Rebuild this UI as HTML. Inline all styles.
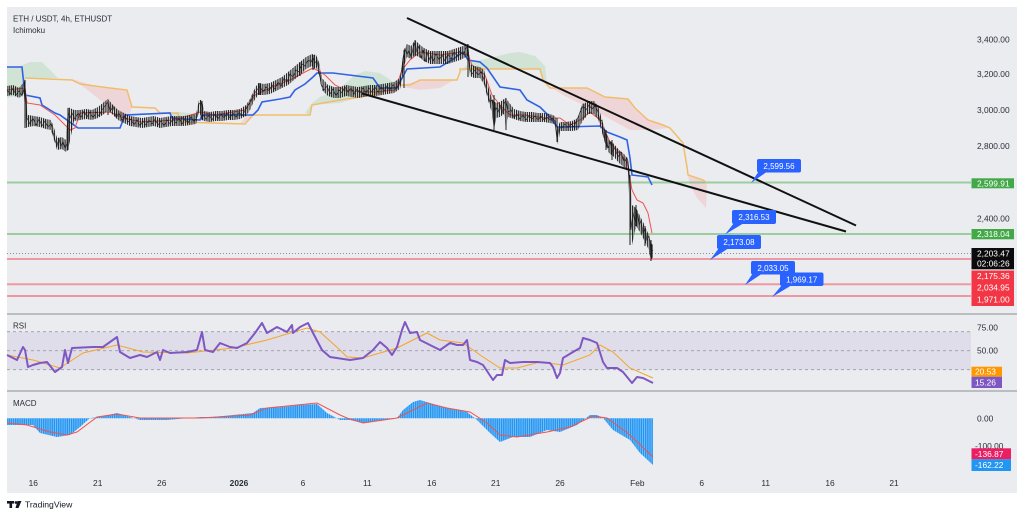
<!DOCTYPE html>
<html><head><meta charset="utf-8"><style>
html,body{margin:0;padding:0;background:#fff;}
svg{display:block;}
text{font-family:"Liberation Sans",Arial,sans-serif;}
.ax{font-size:8.4px;fill:#2a2e39;}
.bx{font-size:8.4px;fill:#fff;}
.cl{font-size:8px;fill:#fff;}
</style></head><body>
<svg width="1024" height="517" viewBox="0 0 1024 517" xmlns="http://www.w3.org/2000/svg">
<defs>
<pattern id="hb" width="2.15" height="20" patternUnits="userSpaceOnUse"><rect width="2.15" height="20" fill="#8cc4f5"/><rect width="1.4" height="20" fill="#2196f3"/></pattern>
<pattern id="cd" width="2.15" height="20" patternUnits="userSpaceOnUse"><rect width="1.15" height="20" fill="#1a1a1a"/></pattern>
</defs>
<rect width="1024" height="517" fill="#fff"/>
<rect x="7" y="7" width="1010" height="486" fill="#ebecef"/>

<!-- Ichimoku clouds -->
<g opacity="0.9">
<polygon fill="#cfe3d3" points="7,67 20,66 30,62 42,62 52,72 58,78 25,78 22,95 7,98"/>
<polygon fill="#efd3d6" points="72,79 95,86 110,88 127,90 132,107 128,123 115,112 100,100 85,88"/>
<polygon fill="#cfe3d3" points="172,113 180,112 190,113 198,117 180,122 172,120"/>
<polygon fill="#efd3d6" points="240,124 247,115 255,113 250,120"/>
<polygon fill="#cfe3d3" points="305,113 312,103 320,97 340,88 355,75 365,71 380,73 395,83 403,86 380,93 360,97 340,103 312,105 310,115"/>
<polygon fill="#efd3d6" points="403,85 420,80 457,80 460,72 458,78 440,88 420,90 403,87"/>
<polygon fill="#cfe3d3" points="460,72 470,62 490,58 510,53 520,52 535,56 545,66 547,85 543,80 540,69 470,69"/>
<polygon fill="#efd3d6" points="547,85 550,88 587,88 605,97 628,99 635,108 648,120 663,125 668,128 650,130 630,130 597,112 563,95"/>
<polygon fill="#efd3d6" points="687,170 688,175 703,180 707,185 706,208 697,198 690,185"/>
</g>

<!-- horizontal levels -->
<line x1="7" y1="182.5" x2="971" y2="182.5" stroke="#4caf50" stroke-opacity="0.5" stroke-width="2"/>
<line x1="7" y1="234" x2="971" y2="234" stroke="#4caf50" stroke-opacity="0.5" stroke-width="2"/>
<line x1="7" y1="253.5" x2="971" y2="253.5" stroke="#6a6d78" stroke-width="0.8" stroke-dasharray="1 2"/>
<line x1="7" y1="259" x2="971" y2="259" stroke="#f23645" stroke-opacity="0.45" stroke-width="2"/>
<line x1="7" y1="284.3" x2="971" y2="284.3" stroke="#f23645" stroke-opacity="0.45" stroke-width="2"/>
<line x1="7" y1="296" x2="971" y2="296" stroke="#f23645" stroke-opacity="0.45" stroke-width="2"/>

<!-- Senkou B (orange) -->
<polyline fill="none" stroke="#f2bd6b" stroke-width="1.5" points="25,78 72,80 80,84 95,86 110,88 127,90 132,107 155,108 160,113 178,113 180,122 245,124 253,115 310,115 312,105 340,100 360,97 380,93 400,85 410,85 420,80 457,80 460,72 460,69 540,69 543,80 550,88 587,88 605,97 628,99 635,108 648,120 663,125 670,128 683,143 687,167 688,175 703,180 706,182"/>

<!-- Kijun (blue) -->
<polyline fill="none" stroke="#2f62e6" stroke-width="1.6" points="7,67 22,67 25,95 40,98 42,105 55,113 60,115 78,128 120,128 125,115 170,113 172,118 200,120 202,115 253,115 258,110 262,102 280,99 290,97 295,90 305,84 313,77 317,73 333,73 373,78 380,88 397,88 401,80 407,69 440,67 452,60 463,52 468,60 480,62 487,68 500,87 520,90 527,100 540,107 550,117 557,127 563,127 600,126 607,132 620,137 627,140 630,158 632,175 648,177 652,185"/>

<!-- Tenkan (red) -->
<polyline fill="none" stroke="#ef5350" stroke-width="1" points="7,90 25,88 27,103 40,105 55,115 70,130 75,128 80,113 110,112 120,117 140,122 175,120 200,112 215,115 245,110 255,95 270,88 290,80 305,72 313,68 325,75 335,85 345,90 360,92 375,92 395,90 402,70 410,60 420,52 440,55 460,52 468,55 472,65 485,75 492,95 500,105 510,115 525,115 545,118 560,118 570,125 580,120 590,112 600,120 610,142 627,162 632,190 637,200 643,203 648,213 652,233"/>

<!-- price candles -->
<polygon fill="url(#cd)" points="7,86 13,85 19,88 24,82 25,79 26,95 28,115 34,116 40,117 46,119 51,120 54,128 57,138 62,137 66,140 68,107 74,110 80,110 86,109 92,110 98,107 104,102 108,99 112,104 118,110 124,113 130,116 136,117 142,118 148,117 154,116 160,118 166,117 172,116 178,116 184,116 190,115 196,114 199,100 202,100 204,111 210,112 216,111 222,111 228,110 234,110 240,109 246,105 250,99 254,90 258,83 264,84 270,83 276,80 282,77 288,72 294,67 300,62 306,57 312,54 316,55 319,62 322,78 328,85 334,87 340,87 346,85 352,86 358,87 364,86 370,85 376,85 382,84 388,83 394,82 400,78 402,64 404,50 407,44 411,46 415,40 419,44 424,48 430,51 436,51 442,51 448,51 454,49 460,47 466,45 468,44 470,64 474,66 480,67 484,70 488,86 492,99 496,103 500,102 504,99 506,98 508,101 514,109 520,111 526,112 532,112 538,113 544,113 550,114 555,116 557,128 560,122 566,122 572,121 578,118 582,104 585,103 588,101 594,101 598,106 601,116 605,130 609,140 614,144 619,150 624,154 628,159 630,176 632,205 636,208 640,216 644,224 648,233 651,243 653,245 653,257 651,260 648,248 644,240 640,232 636,226 632,245 630,215 628,172 624,167 619,163 614,157 609,153 605,143 601,129 598,119 594,114 588,114 582,122 578,130 572,131 566,131 560,131 558,145 555,124 550,123 544,122 538,122 532,122 526,122 520,121 514,119 508,117 506,130 504,114 500,117 496,118 494,130 492,113 488,100 484,84 480,78 474,78 470,76 468,56 466,57 460,60 454,62 448,64 442,64 436,64 430,64 424,61 419,57 415,55 411,59 407,57 404,66 402,80 400,89 394,93 388,94 382,95 376,96 370,96 364,97 358,98 352,97 346,96 340,98 334,98 328,96 322,90 319,75 316,67 313,70 312,66 306,69 300,75 294,80 288,85 282,88 276,91 270,94 264,95 258,95 254,101 250,110 246,116 240,119 234,120 228,120 222,121 216,121 210,122 204,121 202,120 199,111 196,124 190,125 184,126 178,126 172,126 166,127 160,128 154,126 148,127 142,128 136,127 130,126 124,123 118,120 112,114 108,110 104,114 98,118 92,120 86,119 80,120 74,121 68,150 66,152 62,149 57,150 54,140 51,130 46,129 40,127 34,126 28,127 26,128 24,94 19,98 13,95 7,96"/>
<g stroke="#1e1e1e" fill="none">
<polyline stroke-width="0.6" points="7,90 10,94 13,88 16,95 19,91 22,96 24,88 25,84 27,118 30,124 33,118 36,125 39,119 42,126 45,121 48,127 51,124 53,133 55,140 57,146 59,138 61,147 63,141 65,149 67,143 68,112 70,118 72,113 75,119 78,113 81,117 84,111 87,117 90,112 93,118 96,112 99,116 102,110 105,106 108,102 110,112 113,106 116,117 119,113 122,120 125,116 128,122 131,119 134,125 137,120 140,126 143,121 146,125 149,120 152,124 155,119 158,125 161,121 164,126 167,120 170,124 173,119 176,123 179,118 182,124 185,119 188,123 191,117 194,122 197,117 199,104 201,102 203,115 206,119 209,115 212,120 215,114 218,119 221,114 224,118 227,113 230,118 233,113 236,117 239,112 242,116 245,111 248,106 251,100 254,94 257,90 260,86 263,92 266,87 269,91 272,85 275,89 278,82 281,86 284,78 287,82 290,74 293,77 296,70 299,72 302,64 305,66 308,60 311,62 313,57 315,63 317,60 319,70 321,84 324,90 327,86 330,94 333,89 336,96 339,90 342,93 345,87 348,92 351,88 354,94 357,89 360,93 363,88 366,93 369,88 372,92 375,87 378,92 381,87 384,91 387,86 390,90 393,85 396,89 399,84 401,75 403,58 405,48 407,55 409,50 411,58 413,48 415,42 417,52 419,46 421,58 423,50 425,62 427,52 429,60 431,55 433,62 436,54 439,60 442,55 445,61 448,54 451,59 454,52 457,56 460,51 463,55 466,48 468,46 470,70 472,74 475,70 478,75 481,72 484,80 487,92 490,102 492,100 494,115 496,108 498,112 500,105 502,114 504,104 506,100 508,112 511,110 514,118 517,114 520,119 523,115 526,120 529,116 532,119 535,116 538,120 541,116 544,120 547,117 550,120 553,118 555,122 557,140 559,128 562,128 565,124 568,128 571,124 574,127 577,120 580,112 583,106 586,110 589,105 592,109 595,106 598,112 600,122 602,120 604,138 606,132 608,148 610,142 612,152 615,148 618,157 621,152 624,162 627,158 629,170 630,195 631,230 633,212 635,222 637,210 639,226 641,220 643,234 645,228 647,240 649,236 651,252 653,250"/>
<path stroke-width="1" d="M25,80V128 M68,108V150 M108,100V115 M202,101V120 M313,55V70 M404,50V88 M415,40V56 M468,44V77 M494,95V130 M506,98V130 M557,118V142 M585,104V118 M630,175V245 M651,240V261 M645,226V246 M636,205V226 M612,140V160 M606,130V150 M260,83V95 M300,62V76"/>
</g>

<!-- trend lines -->
<line x1="407" y1="18" x2="856" y2="225.5" stroke="#111" stroke-width="2"/>
<line x1="362" y1="93.5" x2="846" y2="231.5" stroke="#111" stroke-width="2"/>

<!-- callouts -->
<g fill="#2962ff">
<rect x="757" y="159" width="44" height="13.5" rx="2"/><polygon points="759,171 768,171 751,183"/>
<rect x="732" y="210" width="44" height="14" rx="2"/><polygon points="734,223 744,223 725,234.5"/>
<rect x="717" y="235" width="44" height="14" rx="2"/><polygon points="719,248 729,248 710,260"/>
<rect x="751" y="261" width="44" height="13.5" rx="2"/><polygon points="753,273 763,273 745,285"/>
<rect x="780" y="272.5" width="43.5" height="13.5" rx="2"/><polygon points="782,285 792,285 772,297"/>
</g>
<g class="cl" text-anchor="middle">
<text x="779" y="168.8">2,599.56</text>
<text x="754" y="220">2,316.53</text>
<text x="739" y="245">2,173.08</text>
<text x="773" y="270.8">2,033.05</text>
<text x="801.7" y="282.3">1,969.17</text>
</g>

<!-- header -->
<text x="13" y="21.5" font-size="8" fill="#2a2e39">ETH / USDT, 4h, ETHUSDT</text>
<text x="13" y="33" font-size="8" fill="#2a2e39">Ichimoku</text>

<!-- price axis -->
<g class="ax">
<text x="977" y="42.3">3,400.00</text>
<text x="977" y="77">3,200.00</text>
<text x="977" y="113">3,000.00</text>
<text x="977" y="149">2,800.00</text>
<text x="977" y="221.3">2,400.00</text>
</g>
<rect x="971.5" y="178.3" width="42.5" height="10" fill="#43a848"/>
<rect x="971.5" y="229" width="42.5" height="10.3" fill="#43a848"/>
<rect x="971.5" y="248" width="42.5" height="21.3" fill="#0b0b0b"/>
<rect x="971.5" y="270.5" width="42.5" height="35.5" fill="#f23645"/>
<g class="bx">
<text x="977" y="186.3">2,599.91</text>
<text x="977" y="237.2">2,318.04</text>
<text x="977" y="256.5">2,203.47</text>
<text x="977" y="266.5">02:06:26</text>
<text x="977" y="279">2,175.36</text>
<text x="977" y="290.3">2,034.95</text>
<text x="977" y="302.3">1,971.00</text>
</g>

<!-- panel separators -->
<line x1="7" y1="314" x2="1017" y2="314" stroke="#9ea1a8" stroke-width="1.2"/>
<line x1="7" y1="391" x2="1017" y2="391" stroke="#9ea1a8" stroke-width="1.2"/>

<!-- RSI -->
<rect x="7" y="331.7" width="964" height="38" fill="#dfdde9"/>
<g stroke="#9a9da6" stroke-width="0.8" stroke-dasharray="3 3">
<line x1="7" y1="331.7" x2="971" y2="331.7"/>
<line x1="7" y1="350.7" x2="971" y2="350.7"/>
<line x1="7" y1="369.7" x2="971" y2="369.7"/>
</g>
<text x="13" y="328.5" font-size="8" fill="#2a2e39">RSI</text>
<polyline fill="none" stroke="#f5a623" stroke-width="1" points="7,355 33,360 60,368 83,353 117,345 143,352 187,353 233,348 267,340 307,328 320,332 340,350 347,357 363,358 397,348 427,333 440,340 463,343 483,357 500,368 517,368 540,362 563,365 590,355 600,345 613,352 630,368 653,378"/>
<polyline fill="none" stroke="#7e57c2" stroke-width="2" stroke-linejoin="round" points="7,355 17,360 23,347 25,350 28,367 33,365 40,363 47,362 55,372 62,367 65,350 68,363 72,348 93,347 103,347 117,337 120,352 130,358 140,355 147,357 157,352 160,360 163,350 170,353 187,352 197,350 202,332 205,350 213,352 220,343 230,347 237,348 247,343 255,333 262,323 267,333 277,327 287,332 292,325 293,333 300,327 308,323 313,333 322,350 330,357 350,360 363,358 373,350 380,342 387,348 392,355 397,347 402,330 405,322 410,333 417,332 420,340 430,345 440,350 450,343 457,345 463,345 467,340 470,360 477,362 483,365 493,380 497,375 502,375 505,360 510,363 523,362 537,362 550,363 553,367 557,378 560,373 563,358 573,352 580,348 583,338 590,340 597,343 603,362 607,368 617,368 623,372 632,383 637,377 643,378 653,383"/>
<g class="ax">
<text x="977" y="330.7">75.00</text>
<text x="977" y="353.7">50.00</text>
</g>
<rect x="971.5" y="366.7" width="30.5" height="10" fill="#ff9800"/>
<rect x="971.5" y="376.7" width="30.5" height="11.3" fill="#7e57c2"/>
<g class="bx">
<text x="975" y="374.7">20.53</text>
<text x="975" y="385.5">15.26</text>
</g>

<!-- MACD -->
<text x="13" y="406" font-size="8" fill="#2a2e39">MACD</text>
<polygon fill="url(#hb)" points="7,418.3 7,425 20,425 33,425 40,433 57,437 70,435 80,427 90,418 100,417 117,413 133,418 140,420 167,420 200,417 213,417 253,413 260,408 283,407 300,405 317,404 327,413 340,420 350,420 363,423 397,418 403,410 413,402 420,400 430,403 447,408 467,412 477,420 490,433 500,442 513,437 530,437 547,430 560,432 577,425 590,415 597,415 603,418 613,430 630,440 640,453 653,465 653,418.3"/>
<polyline fill="none" stroke="#ef5350" stroke-width="1" points="7,423 27,425 50,432 67,435 77,432 97,417 117,414 140,418 200,418 250,415 267,408 317,403 340,415 347,418 363,423 397,418 427,403 447,408 470,412 487,423 500,435 517,437 547,432 570,427 593,416 607,418 630,435 653,457"/>
<g class="ax">
<text x="977" y="421.3">0.00</text>
<text x="975" y="449">-100.00</text>
</g>
<rect x="971.5" y="448.3" width="39.5" height="11" fill="#e91e63"/>
<rect x="971.5" y="459.3" width="39.5" height="11.7" fill="#2196f3"/>
<g class="bx">
<text x="975" y="456.8">-136.87</text>
<text x="975" y="468.2">-162.22</text>
</g>

<!-- time axis -->
<g class="ax" text-anchor="middle">
<text x="33.3" y="486">16</text>
<text x="97.7" y="486">21</text>
<text x="161.7" y="486">26</text>
<text x="239" y="486" font-weight="bold">2026</text>
<text x="303" y="486">6</text>
<text x="367.3" y="486">11</text>
<text x="431.7" y="486">16</text>
<text x="495.7" y="486">21</text>
<text x="560" y="486">26</text>
<text x="637.3" y="486">Feb</text>
<text x="701.7" y="486">6</text>
<text x="765.7" y="486">11</text>
<text x="830" y="486">16</text>
<text x="894" y="486">21</text>
</g>

<!-- TradingView logo -->
<g fill="#131722">
<rect x="7" y="501" width="7" height="2.6"/>
<rect x="9.5" y="501" width="2.6" height="7"/>
<circle cx="16" cy="502.5" r="1.4"/>
<polygon points="17.5,501 21.5,501 18.5,508 15.5,508"/>
</g>
<text x="25" y="507.5" font-size="8.6" fill="#131722">TradingView</text>
</svg>
</body></html>
